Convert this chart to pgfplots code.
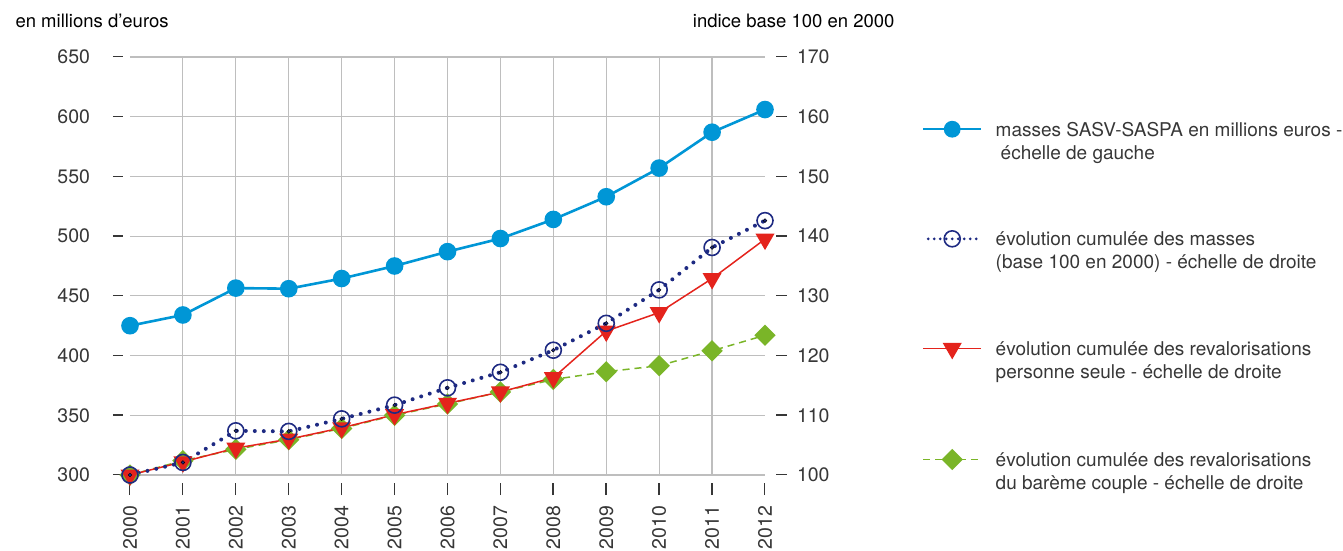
\documentclass[border=0pt]{standalone}
\usepackage{fontspec}
\setmainfont{TeX Gyre Heros}
\usepackage{pgfplots}
\pgfplotsset{compat=1.18}
\definecolor{cblue}{RGB}{0,150,214}
\definecolor{cnavy}{RGB}{30,42,130}
\definecolor{cred}{RGB}{228,35,28}
\definecolor{cgreen}{RGB}{122,181,40}
\definecolor{cgrid}{RGB}{190,190,190}
\definecolor{ctext}{RGB}{55,55,55}
\newcommand{\gap}[1]{\rule{#1}{0pt}}
\begin{document}
\begin{tikzpicture}
\useasboundingbox (-130pt,-76pt) rectangle (1213pt,475pt);
\begin{axis}[
  at={(0pt,0pt)}, anchor=south west,
  width=635pt, height=418pt, scale only axis,
  xmin=2000, xmax=2012, ymin=300, ymax=650,
  axis line style={draw=none},
  xtick={2000,2001,...,2012}, ytick={300,350,...,650},
  minor xtick={2001,2002,...,2011},
  xminorgrids, ymajorgrids,
  grid style={cgrid, line width=1.1pt},
  minor grid style={cgrid, line width=1.1pt},
  major tick length=0pt, minor tick length=0pt,
  tick style={draw=none},
  /pgf/number format/assume math mode=true,
  ticklabel style={font=\fontsize{19.5}{23}\selectfont, text=ctext, inner sep=0pt, outer sep=0pt},
  xticklabel={\pgfmathprintnumber[1000 sep={}]{\tick}\gap{11pt}\rule[6.3pt]{12pt}{1.3pt}\gap{8pt}},
  xticklabel style={rotate=90, anchor=east},
  yticklabel={\pgfmathprintnumber{\tick}\gap{23pt}\rule[6.3pt]{10pt}{1.3pt}\gap{7pt}},
  yticklabel style={anchor=east},
  clip=false,
]
\addplot[cblue, line width=2.6pt, mark=*, mark size=7.5pt, mark options={solid, fill=cblue, draw=none}] coordinates {
(2000,425) (2001,434) (2002,456.5) (2003,456) (2004,464.5) (2005,475) (2006,487) (2007,498) (2008,514) (2009,533) (2010,557) (2011,587) (2012,606)};
\node[anchor=base west, font=\fontsize{18.5}{22}\selectfont, xshift=-118pt, yshift=29pt] at (rel axis cs:0,1) {en millions d’euros};
\node[anchor=base east, font=\fontsize{18.5}{22}\selectfont, xshift=133pt, yshift=29pt] at (rel axis cs:1,1) {indice base 100 en 2000};
\end{axis}
\begin{axis}[
  at={(0pt,0pt)}, anchor=south west,
  width=635pt, height=418pt, scale only axis,
  xmin=2000, xmax=2012, ymin=100, ymax=170,
  hide x axis, axis y line*=right, axis line style={draw=none},
  ytick={100,110,...,170},
  major tick length=0pt, tick style={draw=none},
  /pgf/number format/assume math mode=true,
  ticklabel style={font=\fontsize{19.5}{23}\selectfont, text=ctext, inner sep=0pt, outer sep=0pt},
  yticklabel={\gap{11pt}\rule[6.3pt]{11pt}{1.3pt}\gap{10pt}\pgfmathprintnumber{\tick}},
  yticklabel style={anchor=west},
  clip=false,
  legend style={at={(axis description cs:1.2468,0.849)}, anchor=north west, draw=none, fill=none,
    inner sep=0pt, outer sep=0pt, row sep=92pt, column sep=13pt, cells={anchor=base west},
    font=\fontsize{19}{23}\selectfont, text=ctext, nodes={inner sep=0pt}},
  legend image code/.code={\draw[mark repeat=2,mark phase=2,#1] plot coordinates {(0pt,7pt)(29pt,7pt)(58pt,7pt)};},
]
\addplot[forget plot, cgreen, line width=1.5pt, dash pattern=on 7pt off 5pt, mark=square*, mark size=6.8pt, mark options={rotate=45, solid, fill=cgreen, draw=none}] coordinates {
(2000,100) (2001,102.4) (2002,104.3) (2003,105.9) (2004,107.8) (2005,110.0) (2006,111.9) (2007,113.9) (2008,116.0) (2009,117.3) (2010,118.3) (2011,120.8) (2012,123.4)};
\addplot[forget plot, cred, line width=1.5pt, mark=triangle*, mark size=9.5pt, mark options={rotate=180, solid, fill=cred, draw=none}] coordinates {
(2000,100) (2001,102.2) (2002,104.5) (2003,106.0) (2004,107.9) (2005,110.1) (2006,112.0) (2007,113.9) (2008,116.3) (2009,124.1) (2010,127.2) (2011,132.9) (2012,139.5)};
\addplot[forget plot, cnavy, line width=4pt, line cap=round, dash pattern=on 0pt off 9pt, mark=o, mark size=8pt, mark options={solid, line width=1.6pt, draw=cnavy}] coordinates {
(2000,100) (2001,102.1) (2002,107.4) (2003,107.3) (2004,109.4) (2005,111.7) (2006,114.6) (2007,117.2) (2008,120.9) (2009,125.4) (2010,131.0) (2011,138.1) (2012,142.6)};
\addplot[forget plot, only marks, mark=*, mark size=1.9pt, mark options={fill=cnavy, draw=none}] coordinates {
(2000,100) (2001,102.1) (2002,107.4) (2003,107.3) (2004,109.4) (2005,111.7) (2006,114.6) (2007,117.2) (2008,120.9) (2009,125.4) (2010,131.0) (2011,138.1) (2012,142.6)};
\addlegendimage{cblue, line width=1.8pt, mark=*, mark size=7.5pt, mark options={solid, fill=cblue, draw=none}}
\addlegendentry{\begin{tabular}[t]{@{}l@{}}masses SASV-SASPA en millions euros -\\\gap{5pt}échelle de gauche\end{tabular}}
\addlegendimage{cnavy, line width=3pt, line cap=round, dash pattern=on 0pt off 6pt, dash phase=1pt, mark=o, mark size=8pt, mark options={solid, line width=1.6pt, draw=cnavy}}
\addlegendentry{\begin{tabular}[t]{@{}l@{}}évolution cumulée des masses\\(base 100 en 2000) - échelle de droite\end{tabular}}
\addlegendimage{cred, line width=1.5pt, mark=triangle*, mark size=9.5pt, mark options={rotate=180, solid, fill=cred, draw=none}}
\addlegendentry{\begin{tabular}[t]{@{}l@{}}évolution cumulée des revalorisations\\personne seule - échelle de droite\end{tabular}}
\addlegendimage{cgreen, line width=1.5pt, dash pattern=on 7pt off 5pt, mark=square*, mark size=6.8pt, mark options={rotate=45, solid, fill=cgreen, draw=none}}
\addlegendentry{\begin{tabular}[t]{@{}l@{}}évolution cumulée des revalorisations\\du barème couple - échelle de droite\end{tabular}}
\end{axis}
\end{tikzpicture}
\end{document}
